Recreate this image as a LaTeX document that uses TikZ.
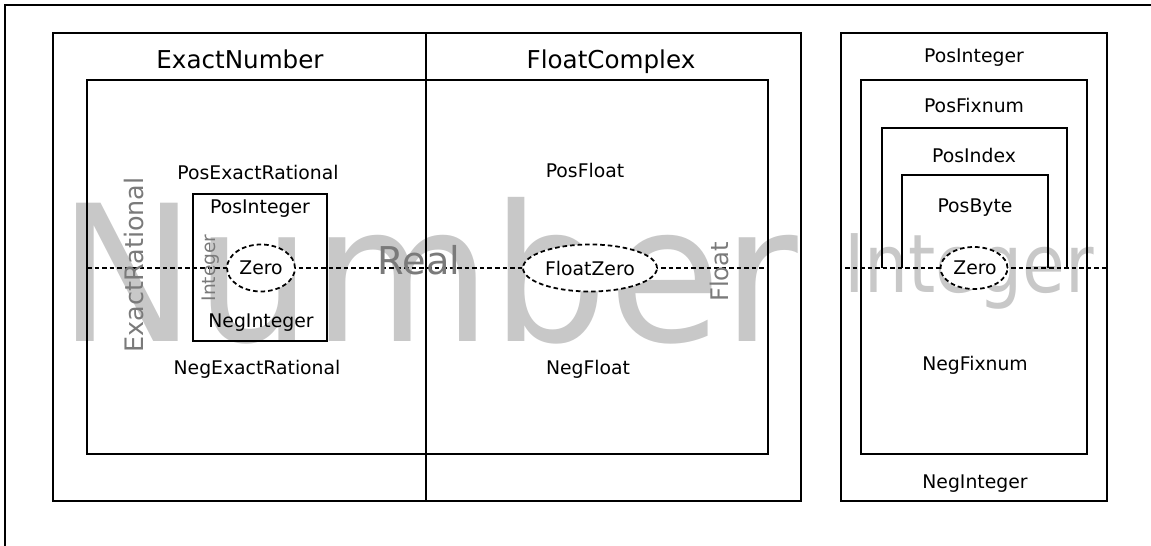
\documentclass[tikz,border=0pt]{standalone}
\usepackage{fontspec}
\setmainfont{DejaVu Sans}
\usetikzlibrary{shapes.geometric}
\definecolor{ghostgray}{HTML}{C8C8C8}
\definecolor{markgray}{HTML}{7A7A7A}

\begin{document}
\begin{tikzpicture}[x=0.02cm,y=0.02cm,
  box/.style={line width=1.3pt},
  cut/.style={line width=1pt,dash pattern=on 2.6pt off 1.7pt},
  lbl/.style={inner sep=0pt,anchor=base,font=\fontsize{10.7}{12}\selectfont},
  head/.style={inner sep=0pt,anchor=base,font=\fontsize{14}{16}\selectfont},
  ghost/.style={inner sep=0pt,anchor=base,text=ghostgray},
  kindmark/.style={inner sep=0pt,anchor=base,text=markgray},
  zero/.style={ellipse,draw,cut,fill=white,inner sep=0pt,minimum height=0.94cm}]
  \useasboundingbox (0,0) rectangle (1151,-546);

  % big background words
  \node[ghost,font=\fontsize{108}{110}\selectfont,xscale=0.97] (number) at (428,-342) {Number};
  \node[ghost,font=\fontsize{46}{48}\selectfont,xscale=0.86] (integer) at (969,-293) {Integer};

  % frame and boxes
  \draw[box] (5,-546) -- (5,-5) -- (1151,-5);
  \draw[box] (53,-33) rectangle (801,-501);
  \draw[box] (426,-33) -- (426,-501);
  \draw[box] (87,-80) rectangle (768,-454);
  \draw[box] (193,-194) rectangle (327,-341);
  \draw[box] (841,-33) rectangle (1107,-501);
  \draw[box] (861,-80) rectangle (1087,-454);
  \draw[box] (882,-268) |- (1067,-128) -- (1067,-268);
  \draw[box] (902,-268) |- (1048,-175) -- (1048,-268);

  % sign line
  \draw[cut] (87,-268) -- (768,-268);
  \draw[cut] (845,-268) -- (1107,-268);

  % grey kind marks
  \node[kindmark,font=\fontsize{21.8}{24}\selectfont] (real) at (419,-275) {Real};
  \node[kindmark,rotate=90,font=\fontsize{14.5}{16}\selectfont] (exactrational) at (143,-265) {ExactRational};
  \node[kindmark,rotate=90,font=\fontsize{10.6}{12}\selectfont] (integersmall) at (215,-268) {Integer};
  \node[kindmark,rotate=90,font=\fontsize{13.8}{15}\selectfont] (float) at (728,-272) {Float};

  % zeros
  \node[zero,minimum width=1.36cm] (lzero) at (261,-268) {};
  \node[zero,minimum width=2.68cm] (fzero) at (590,-268) {};
  \node[zero,minimum width=1.34cm,minimum height=0.84cm] (rzero) at (974,-268) {};
  \node[lbl] (lzerotext) at (261,-275) {Zero};
  \node[lbl] (fzerotext) at (590,-276) {FloatZero};
  \node[lbl] (rzerotext) at (975,-275) {Zero};

  % left panel
  \node[head] (exactnumber) at (240,-69) {ExactNumber};
  \node[head] (floatcomplex) at (611,-69) {FloatComplex};
  \node[lbl] (posexactrational) at (258,-180) {PosExactRational};
  \node[lbl] (posinteger) at (260,-214) {PosInteger};
  \node[lbl] (neginteger) at (261,-328) {NegInteger};
  \node[lbl] (negexactrational) at (257,-375) {NegExactRational};
  \node[lbl] (posfloat) at (585,-178) {PosFloat};
  \node[lbl] (negfloat) at (588,-375) {NegFloat};

  % right panel
  \node[lbl] (rposinteger) at (974,-63) {PosInteger};
  \node[lbl] (rposfixnum) at (974,-113) {PosFixnum};
  \node[lbl] (rposindex) at (974,-163) {PosIndex};
  \node[lbl] (rposbyte) at (975,-213) {PosByte};
  \node[lbl] (rnegfixnum) at (975,-371) {NegFixnum};
  \node[lbl] (rneginteger) at (975,-488) {NegInteger};
\end{tikzpicture}
\end{document}
